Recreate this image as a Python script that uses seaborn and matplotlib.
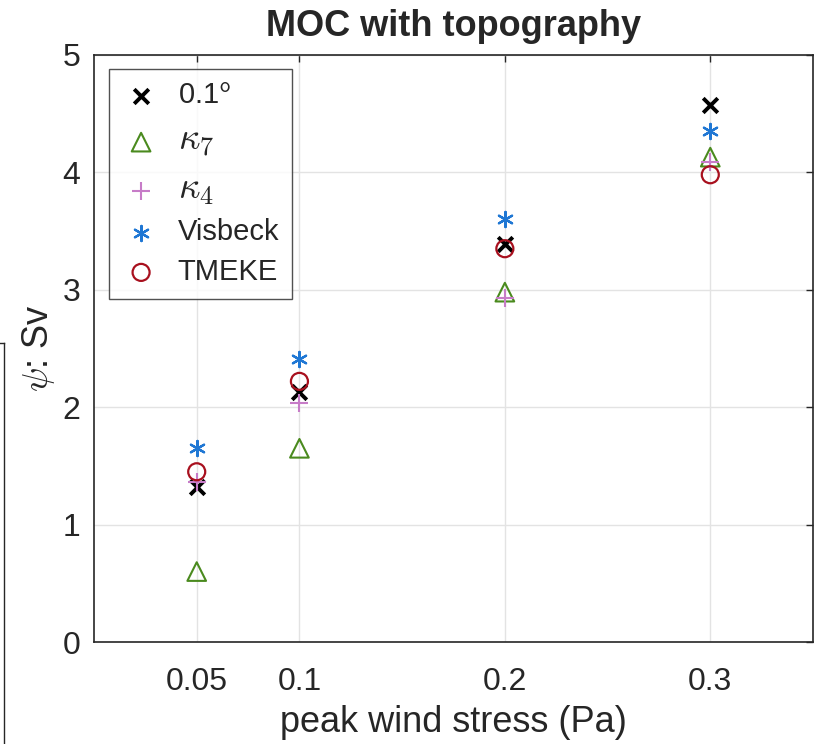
import matplotlib
matplotlib.use("Agg")
import matplotlib.pyplot as plt
import seaborn as sns
import pandas as pd

# ---- data ----
wind_stress = [0.05, 0.1, 0.2, 0.3]
moc_01deg = [1.32, 2.13, 3.39, 4.57]
moc_kappa7 = [0.60, 1.65, 2.98, 4.13]
moc_kappa4 = [1.36, 2.04, 2.93, 4.09]
moc_visbeck = [1.65, 2.41, 3.60, 4.35]
moc_tmeke = [1.45, 2.22, 3.35, 3.98]

x_ticks = [0.05, 0.1, 0.2, 0.3]
x_tick_labels = ["0.05", "0.1", "0.2", "0.3"]
y_ticks = [0, 1, 2, 3, 4, 5]

series_names = ["0.1$^{\\mathsf{o}}$", r"$\kappa_{\mathsf{7}}$", r"$\kappa_{\mathsf{4}}$", "Visbeck", "TMEKE"]
series_values = [moc_01deg, moc_kappa7, moc_kappa4, moc_visbeck, moc_tmeke]

# ---- style ----
sns.set_style("white")
plt.rcParams["font.family"] = ["Liberation Sans", "DejaVu Sans"]
plt.rcParams["mathtext.fontset"] = "cm"

styles = [
    dict(marker="x", color="black", s=110, linewidths=2.8, filled=True),
    dict(marker="^", color="#4a8a1e", s=180, linewidths=1.5, filled=False),
    dict(marker="+", color="#c77cc8", s=160, linewidths=1.5, filled=True),
    dict(marker=(6, 2, 0), color="#1f77d4", s=120, linewidths=1.6, filled=True),
    dict(marker="o", color="#a8101e", s=150, linewidths=1.6, filled=False),
]

fig = plt.figure(figsize=(8.15, 7.44), dpi=100)

# partially visible neighbouring panel at far left
ax0 = fig.add_axes([-0.5, -0.05, 0.505, 0.589])
ax0.set_xticks([]); ax0.set_yticks([])
for sp in ax0.spines.values():
    sp.set_color("#262626"); sp.set_linewidth(1.0)

ax = fig.add_axes([94 / 815, (744 - 642) / 744, (813 - 94) / 815, (642 - 55) / 744])

for name, vals, st in zip(series_names, series_values, styles):
    df = pd.DataFrame({"x": wind_stress, "y": vals})
    if st["filled"]:
        sns.scatterplot(data=df, x="x", y="y", ax=ax, marker=st["marker"], color=st["color"],
                        s=st["s"], linewidths=st["linewidths"], label=name, zorder=3)
    else:
        sns.scatterplot(data=df, x="x", y="y", ax=ax, marker=st["marker"], facecolors="none",
                        edgecolor=st["color"], s=st["s"], linewidths=st["linewidths"],
                        label=name, zorder=3)

ax.set_xlim(0, 0.35)
ax.set_ylim(0, 5)
ax.set_xticks(x_ticks)
ax.set_xticklabels(x_tick_labels)
ax.set_yticks(y_ticks)
ax.grid(True, color="#e3e3e3", linewidth=1.0)
ax.set_axisbelow(True)
ax.tick_params(direction="in", length=5, width=1, labelsize=23, colors="#262626",
               top=True, right=True)
ax.tick_params(axis="x", pad=18)
ax.tick_params(axis="y", pad=10)
for sp in ax.spines.values():
    sp.set_color("#262626"); sp.set_linewidth(1.2)

ax.set_xlabel("peak wind stress (Pa)", fontsize=26, color="#262626", labelpad=6)
ax.set_ylabel(r"$\psi$: Sv", fontsize=26, color="#262626", labelpad=4)
ax.set_title("MOC with topography", fontsize=26, fontweight="bold", pad=14)

leg = ax.legend(loc="upper left", fontsize=21, frameon=True, fancybox=False,
                edgecolor="#262626", borderpad=0.45, labelspacing=0.4,
                handlelength=1.3, handletextpad=0.6, borderaxespad=0.0,
                bbox_to_anchor=(15 / 719, 1 - 14 / 587))
leg.get_frame().set_linewidth(1.0)
for t in leg.get_texts():
    if "kappa" in t.get_text():
        t.set_fontsize(27)

fig.savefig("out.png", dpi=100)
